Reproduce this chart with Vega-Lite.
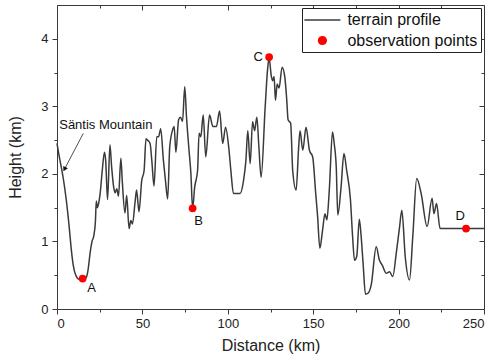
{
  "$schema": "https://vega.github.io/schema/vega-lite/v6.json",
  "width": 427,
  "height": 304,
  "autosize": {"type": "none"},
  "padding": {"left": 57, "top": 5, "right": 11, "bottom": 55},
  "background": "white",
  "config": {
    "view": {"stroke": "#3a3a3a", "strokeWidth": 1},
    "font": "Liberation Sans",
    "axis": {"grid": false, "domain": false, "tickColor": "#3a3a3a", "labelColor": "#222222", "titleColor": "#222222", "labelFontSize": 13, "titleFontSize": 16, "titleFontWeight": "normal", "labelFont": "Liberation Sans", "titleFont": "Liberation Sans"}
  },
  "datasets": {
    "terrain": [
      {"d":0,"h":2.45},{"d":1,"h":2.3},{"d":2.5,"h":2.1},{"d":4,"h":1.88},{"d":5.5,"h":1.6},{"d":7,"h":1.25},{"d":8.5,"h":0.85},{"d":9.5,"h":0.65},{"d":11,"h":0.5},{"d":13,"h":0.44},{"d":15,"h":0.44},{"d":17,"h":0.46},{"d":18,"h":0.55},{"d":19.5,"h":0.85},{"d":20.5,"h":1.0},{"d":21.5,"h":1.08},{"d":22.5,"h":1.3},{"d":23,"h":1.6},{"d":23.6,"h":1.5},{"d":24.5,"h":1.58},{"d":25.3,"h":1.72},{"d":26.5,"h":2.05},{"d":27.8,"h":2.32},{"d":28.5,"h":2.2},{"d":29.6,"h":1.62},{"d":31,"h":2.43},{"d":32,"h":2.1},{"d":33.2,"h":1.8},{"d":34,"h":1.72},{"d":35,"h":1.78},{"d":36,"h":1.67},{"d":37.4,"h":2.23},{"d":38.2,"h":1.9},{"d":39.8,"h":1.42},{"d":40.8,"h":1.68},{"d":42.2,"h":1.19},{"d":43.2,"h":1.31},{"d":44.2,"h":1.26},{"d":45.7,"h":1.58},{"d":46.6,"h":1.76},{"d":48,"h":1.44},{"d":49.6,"h":1.9},{"d":51,"h":2.05},{"d":52.1,"h":2.52},{"d":53,"h":2.5},{"d":54.5,"h":2.45},{"d":55.5,"h":2.2},{"d":56.8,"h":1.82},{"d":58.4,"h":2.55},{"d":59.5,"h":2.55},{"d":60.7,"h":2.67},{"d":62.3,"h":2.2},{"d":63.5,"h":1.9},{"d":64.8,"h":1.63},{"d":66,"h":2.4},{"d":67.8,"h":2.66},{"d":68.6,"h":2.7},{"d":69.6,"h":2.32},{"d":71.2,"h":2.8},{"d":72.3,"h":2.84},{"d":73.5,"h":2.78},{"d":74.8,"h":3.29},{"d":75.8,"h":2.85},{"d":77.3,"h":2.35},{"d":78.4,"h":2.0},{"d":79.4,"h":1.49},{"d":80.6,"h":1.8},{"d":82.3,"h":2.05},{"d":83.2,"h":2.6},{"d":84.2,"h":2.55},{"d":85.6,"h":2.87},{"d":87.1,"h":2.25},{"d":89.3,"h":2.87},{"d":91.3,"h":2.7},{"d":93.3,"h":2.7},{"d":95.2,"h":2.93},{"d":97,"h":2.45},{"d":98.7,"h":2.69},{"d":100.6,"h":2.38},{"d":101.8,"h":2.05},{"d":103.3,"h":1.71},{"d":107.2,"h":1.71},{"d":109.2,"h":1.9},{"d":110.6,"h":2.2},{"d":111.7,"h":2.64},{"d":113.1,"h":2.15},{"d":114.5,"h":2.77},{"d":115.7,"h":2.64},{"d":117,"h":2.84},{"d":118.2,"h":2.4},{"d":119.5,"h":1.95},{"d":121.9,"h":3.0},{"d":123.3,"h":3.55},{"d":124.2,"h":3.72},{"d":125.4,"h":3.46},{"d":126.3,"h":3.38},{"d":127.1,"h":3.44},{"d":127.9,"h":3.09},{"d":128.9,"h":3.33},{"d":130,"h":3.27},{"d":131.8,"h":3.58},{"d":133.4,"h":3.43},{"d":134.5,"h":3.1},{"d":135.3,"h":2.8},{"d":136.8,"h":2.75},{"d":138,"h":2.05},{"d":140,"h":1.76},{"d":141.5,"h":2.4},{"d":142.3,"h":2.64},{"d":143.9,"h":2.35},{"d":145.8,"h":2.69},{"d":147.8,"h":2.35},{"d":149.7,"h":2.25},{"d":151.5,"h":1.7},{"d":152.5,"h":1.4},{"d":153.9,"h":0.9},{"d":155.5,"h":1.17},{"d":156.9,"h":1.41},{"d":158,"h":1.32},{"d":159.4,"h":1.75},{"d":161.3,"h":2.62},{"d":162.3,"h":2.45},{"d":163.5,"h":2.1},{"d":164.4,"h":1.39},{"d":166.3,"h":1.8},{"d":168,"h":2.3},{"d":169.6,"h":2.05},{"d":171.8,"h":1.62},{"d":173,"h":1.1},{"d":174.2,"h":0.72},{"d":175.5,"h":0.78},{"d":177,"h":1.33},{"d":178,"h":1.1},{"d":179.2,"h":0.68},{"d":180.6,"h":0.22},{"d":182,"h":0.23},{"d":184,"h":0.36},{"d":186.9,"h":0.92},{"d":188.8,"h":0.72},{"d":190.4,"h":0.65},{"d":192.7,"h":0.53},{"d":194.7,"h":0.55},{"d":196.6,"h":0.48},{"d":198.6,"h":0.82},{"d":200.5,"h":1.2},{"d":201.9,"h":1.46},{"d":203.9,"h":0.77},{"d":206.4,"h":0.43},{"d":208.3,"h":1.07},{"d":210.6,"h":1.93},{"d":213.2,"h":1.71},{"d":216.7,"h":1.22},{"d":219.6,"h":1.64},{"d":220.7,"h":1.41},{"d":222.2,"h":1.56},{"d":224.3,"h":1.19},{"d":250,"h":1.19}
    ],
    "obs": [
      {"d":15,"h":0.45,"label":"A"},
      {"d":79.4,"h":1.49,"label":"B"},
      {"d":124.2,"h":3.73,"label":"C"},
      {"d":239.5,"h":1.19,"label":"D"}
    ],
    "note": [
      {"d":1.3,"h":2.73,"text":"Säntis Mountain","d0":15.4,"h0":2.6,"d1":4.6,"h1":2.08}
    ]
  },
  "resolve": {"axis": {"x": "independent", "y": "independent"}},
  "layer": [
    {
      "data": {"name": "terrain"},
      "mark": {"type": "line", "strokeWidth": 1.5, "interpolate": "monotone"},
      "encoding": {
        "x": {"field": "d", "type": "quantitative", "scale": {"domain": [0, 250], "nice": false},
          "axis": {"orient": "bottom", "values": [0,50,100,150,200,250], "tickSize": 5, "labelPadding": 3, "title": "Distance (km)", "titlePadding": 7}},
        "y": {"field": "h", "type": "quantitative", "scale": {"domain": [0, 4.5], "nice": false},
          "axis": {"orient": "left", "values": [0,1,2,3,4], "tickSize": 5, "labelPadding": 4, "title": "Height (km)", "titlePadding": 17}},
        "color": {"datum": "terrain profile", "type": "nominal",
          "scale": {"domain": ["terrain profile", "observation points"], "range": ["#3a3a3a", "#ff0000"]},
          "legend": {
            "title": null, "orient": "top-right", "offset": 3, "padding": 3,
            "strokeColor": "#222222", "fillColor": "white",
            "labelFontSize": 16, "labelFont": "Liberation Sans", "labelColor": "#111111", "labelOffset": 16,
            "symbolType": "stroke", "symbolSize": 256, "symbolStrokeWidth": 1.5, "symbolOffset": 8.4, "rowPadding": 3.5,
            "encode": {"symbols": {"update": {
              "shape": {"signal": "datum.value === 'observation points' ? 'circle' : 'M-2.25,0H2.25'"},
              "size": {"signal": "datum.value === 'observation points' ? 60 : 256"},
              "fill": {"signal": "datum.value === 'observation points' ? '#ff0000' : 'transparent'"},
              "stroke": {"signal": "datum.value === 'observation points' ? '#ff0000' : '#3a3a3a'"}
            }}}
          }}
      }
    },
    {
      "data": {"name": "obs"},
      "mark": {"type": "point", "filled": true, "size": 60, "color": "#ff0000", "opacity": 1},
      "encoding": {
        "x": {"field": "d", "type": "quantitative", "scale": {"domain": [0, 250], "nice": false},
          "axis": {"orient": "bottom", "values": [25,75,125,175,225], "tickSize": 3, "labels": false, "title": null}},
        "y": {"field": "h", "type": "quantitative", "scale": {"domain": [0, 4.5], "nice": false},
          "axis": {"orient": "left", "values": [0.5,1.5,2.5,3.5], "tickSize": 3, "labels": false, "title": null}}
      }
    },
    {
      "data": {"name": "obs"},
      "transform": [{"filter": "datum.label === 'A'"}],
      "mark": {"type": "text", "fontSize": 13, "dx": 9, "dy": 9, "color": "#111111", "align": "center", "baseline": "middle"},
      "encoding": {
        "x": {"field": "d", "type": "quantitative", "scale": {"domain": [0, 250], "nice": false},
          "axis": {"orient": "top", "values": [0,50,100,150,200,250], "tickSize": -5, "labels": false, "title": null}},
        "y": {"field": "h", "type": "quantitative", "scale": {"domain": [0, 4.5], "nice": false},
          "axis": {"orient": "right", "values": [0,1,2,3,4], "tickSize": -5, "labels": false, "title": null}},
        "text": {"field": "label"}
      }
    },
    {
      "data": {"name": "obs"},
      "transform": [{"filter": "datum.label === 'B'"}],
      "mark": {"type": "text", "fontSize": 13, "dx": 6, "dy": 13, "color": "#111111", "align": "center", "baseline": "middle"},
      "encoding": {
        "x": {"field": "d", "type": "quantitative", "scale": {"domain": [0, 250], "nice": false},
          "axis": {"orient": "top", "values": [25,75,125,175,225], "tickSize": -3, "labels": false, "title": null}},
        "y": {"field": "h", "type": "quantitative", "scale": {"domain": [0, 4.5], "nice": false},
          "axis": {"orient": "right", "values": [0.5,1.5,2.5,3.5], "tickSize": -3, "labels": false, "title": null}},
        "text": {"field": "label"}
      }
    },
    {
      "data": {"name": "obs"},
      "transform": [{"filter": "datum.label === 'C'"}],
      "mark": {"type": "text", "fontSize": 13, "dx": -11, "dy": 0, "color": "#111111", "align": "center", "baseline": "middle"},
      "encoding": {
        "x": {"field": "d", "type": "quantitative", "axis": null},
        "y": {"field": "h", "type": "quantitative", "axis": null},
        "text": {"field": "label"}
      }
    },
    {
      "data": {"name": "obs"},
      "transform": [{"filter": "datum.label === 'D'"}],
      "mark": {"type": "text", "fontSize": 13, "dx": -6, "dy": -13, "color": "#111111", "align": "center", "baseline": "middle"},
      "encoding": {
        "x": {"field": "d", "type": "quantitative", "axis": null},
        "y": {"field": "h", "type": "quantitative", "axis": null},
        "text": {"field": "label"}
      }
    },
    {
      "data": {"name": "note"},
      "mark": {"type": "text", "fontSize": 13, "color": "#111111", "align": "left", "baseline": "middle"},
      "encoding": {
        "x": {"field": "d", "type": "quantitative", "axis": null},
        "y": {"field": "h", "type": "quantitative", "axis": null},
        "text": {"field": "text"}
      }
    },
    {
      "data": {"name": "note"},
      "mark": {"type": "rule", "color": "#222222", "strokeWidth": 0.8},
      "encoding": {
        "x": {"field": "d0", "type": "quantitative", "axis": null},
        "y": {"field": "h0", "type": "quantitative", "axis": null},
        "x2": {"field": "d1"},
        "y2": {"field": "h1"}
      }
    },
    {
      "data": {"name": "note"},
      "mark": {"type": "point", "shape": "triangle", "filled": true, "size": 28, "angle": 207, "color": "#111111", "opacity": 1},
      "encoding": {
        "x": {"field": "d1", "type": "quantitative", "axis": null},
        "y": {"field": "h1", "type": "quantitative", "axis": null}
      }
    }
  ]
}
